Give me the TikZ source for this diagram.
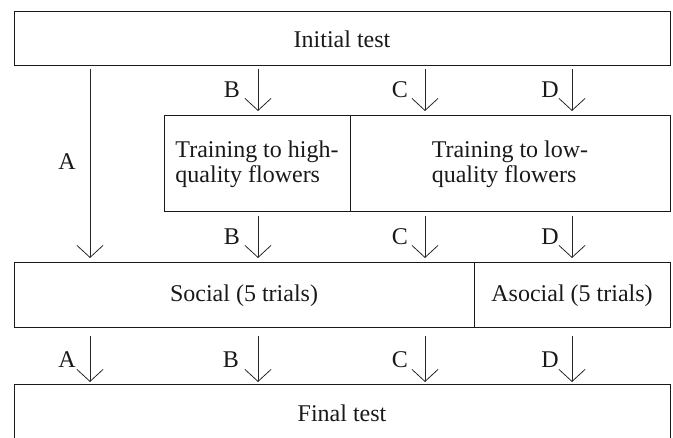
\documentclass[tikz,border=0pt]{standalone}
\usepackage{fontspec}
\setmainfont{Liberation Serif}
\usetikzlibrary{arrows.meta}
\begin{document}
\begin{tikzpicture}[x=1pt,y=-1pt,
  every node/.style={font=\fontsize{24}{25}\selectfont, text=black!90},
  box/.style={draw=black!90, line width=1pt, inner sep=0pt, outer sep=0pt, anchor=north west},
  arr/.style={draw=black!85, line width=0.8pt, -{Straight Barb[length=12pt,width=26pt,line width=0.8pt]}},
  lbl/.style={inner sep=0pt}
]
\useasboundingbox (0,0) rectangle (673,438);
\clip (0,0) rectangle (673,438);
% boxes
\node[box, minimum width=656pt, minimum height=54pt] (init) at (14,12) {Initial test};
\node[box, minimum width=186pt, minimum height=96pt, align=left] (trainH) at (164,116) {Training to high-\\quality flowers};
\node[box, minimum width=320pt, minimum height=96pt, align=left] (trainL) at (350,116) {Training to low-\\quality flowers};
\node[box, minimum width=460pt, minimum height=65pt] (social) at (14,263) {Social (5 trials)};
\node[box, minimum width=196pt, minimum height=65pt] (asocial) at (474,263) {Asocial (5 trials)};
\node[box, minimum width=656pt, minimum height=56pt] (final) at (14,385) {Final test};
% columns
\coordinate (cA) at (90,0);
\coordinate (cB) at (258,0);
\coordinate (cC) at (425,0);
\coordinate (cD) at (572,0);
% row 1
\draw[arr, shorten <=3pt, shorten >=5pt] (init.south -| cA) -- (social.north -| cA);
\draw[arr, shorten <=3pt, shorten >=5pt] (init.south -| cB) -- (trainH.north -| cB);
\draw[arr, shorten <=3pt, shorten >=5pt] (init.south -| cC) -- (trainL.north -| cC);
\draw[arr, shorten <=3pt, shorten >=5pt] (init.south -| cD) -- (trainL.north -| cD);
% row 2
\draw[arr, shorten <=4pt, shorten >=5pt] (trainH.south -| cB) -- (social.north -| cB);
\draw[arr, shorten <=4pt, shorten >=5pt] (trainL.south -| cC) -- (social.north -| cC);
\draw[arr, shorten <=4pt, shorten >=5pt] (trainL.south -| cD) -- (asocial.north -| cD);
% row 3
\draw[arr, shorten <=8pt, shorten >=3pt] (social.south -| cA) -- (final.north -| cA);
\draw[arr, shorten <=8pt, shorten >=3pt] (social.south -| cB) -- (final.north -| cB);
\draw[arr, shorten <=8pt, shorten >=3pt] (social.south -| cC) -- (final.north -| cC);
\draw[arr, shorten <=8pt, shorten >=3pt] (asocial.south -| cD) -- (final.north -| cD);
% labels
\node[lbl] (lA1) at (67,162) {A};
\node[lbl] (lB1) at (232,90) {B};
\node[lbl] (lC1) at (400,90) {C};
\node[lbl] (lD1) at (550,90) {D};
\node[lbl] (lB2) at (232,237) {B};
\node[lbl] (lC2) at (400,237) {C};
\node[lbl] (lD2) at (550,237) {D};
\node[lbl] (lA3) at (67,360) {A};
\node[lbl] (lB3) at (231,360) {B};
\node[lbl] (lC3) at (400,360) {C};
\node[lbl] (lD3) at (550,360) {D};
\end{tikzpicture}
\end{document}
